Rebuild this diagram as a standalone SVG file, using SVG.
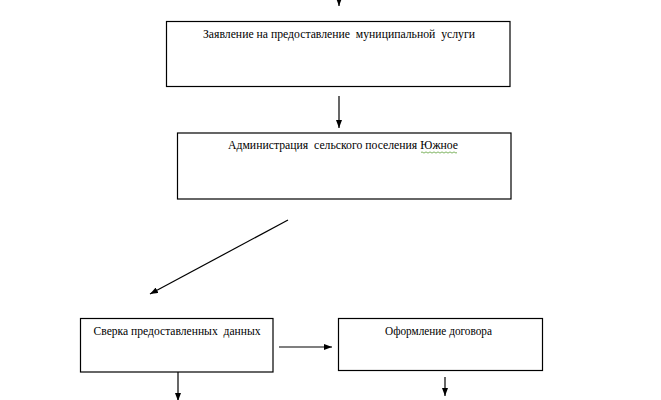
<svg xmlns="http://www.w3.org/2000/svg" width="661" height="400" viewBox="0 0 661 400">
<defs>
<marker id="ah" markerWidth="8" markerHeight="6" refX="8" refY="3" orient="auto" markerUnits="userSpaceOnUse">
<path d="M0,0 L8,3 L0,6 z" fill="#000"/>
</marker>
<style>
.box{fill:#fff;stroke:#000;stroke-width:1.2}
.t{font-size:12px;fill:#000}
.c{stroke:#000;stroke-width:1.2;fill:none;marker-end:url(#ah)}
</style>
</defs>
<rect width="661" height="400" fill="#fff"/>
<g id="connectors">
<line class="c" x1="339" y1="-2" x2="339" y2="6"/>
<line class="c" x1="339" y1="96" x2="339" y2="128"/>
<line class="c" x1="288" y1="220" x2="150" y2="294"/>
<line class="c" x1="279" y1="347" x2="332" y2="347"/>
<line class="c" x1="178" y1="372" x2="178" y2="401"/>
<line class="c" x1="445" y1="377" x2="445" y2="396"/>
</g>
<g id="node1">
<rect class="box" x="166.5" y="21.5" width="343.5" height="65"/>
<text class="t" font-family="Liberation Serif, Times New Roman, DejaVu Serif, serif" x="203" y="38" textLength="272" lengthAdjust="spacingAndGlyphs" xml:space="preserve">Заявление на предоставление  муниципальной  услуги</text>
</g>
<g id="node2">
<rect class="box" x="177.5" y="133" width="333.5" height="66"/>
<text class="t" font-family="Liberation Serif, Times New Roman, DejaVu Serif, serif" x="228" y="148.5" textLength="230" lengthAdjust="spacingAndGlyphs" xml:space="preserve">Администрация  сельского поселения Южное</text>
<path d="M421,152.5 q1,-1.2 2,0 t2,0 t2,0 t2,0 t2,0 t2,0 t2,0 t2,0 t2,0 t2,0 t2,0 t2,0 t2,0 t2,0 t2,0 t2,0 t2,0 t2,0" fill="none" stroke="#5fa13a" stroke-width="0.8"/>
</g>
<g id="node3">
<rect class="box" x="80.5" y="318.5" width="192.5" height="53.5"/>
<text class="t" font-family="Liberation Serif, Times New Roman, DejaVu Serif, serif" x="93.5" y="334.5" textLength="167" lengthAdjust="spacingAndGlyphs" xml:space="preserve">Сверка предоставленных  данных</text>
</g>
<g id="node4">
<rect class="box" x="338.5" y="318.5" width="204" height="52"/>
<text class="t" font-family="Liberation Serif, Times New Roman, DejaVu Serif, serif" x="385" y="335" textLength="107" lengthAdjust="spacingAndGlyphs">Оформление договора</text>
</g>
</svg>
